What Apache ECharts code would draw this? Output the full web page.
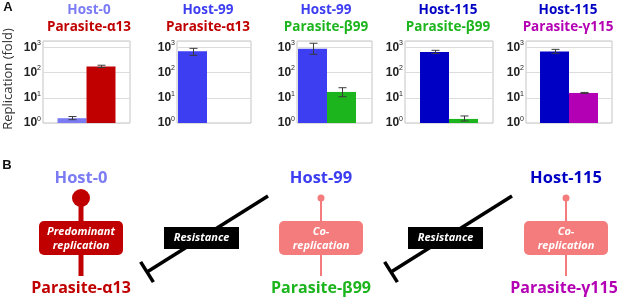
<!DOCTYPE html>
<html>
<head>
<meta charset="utf-8">
<script src="https://cdn.jsdelivr.net/npm/echarts@6/dist/echarts.min.js"></script>
<style>
  html, body { margin: 0; padding: 0; background: #fff; }
  #chart { width: 617px; height: 298px; }
</style>
</head>
<body>
<div id="chart"></div>
<script>
// -----------------------------------------
// DATA (panel A: replication fold)
// -----------------------------------------
const panelHosts = ['Host-0', 'Host-99', 'Host-99', 'Host-115', 'Host-115'];
const panelParasites = ['Parasite-α13', 'Parasite-α13', 'Parasite-β99', 'Parasite-β99', 'Parasite-γ115'];
const hostValues = [1.55, 690, 880, 650, 680];
const hostLow = [1.35, 480, 530, 570, 580];
const hostHigh = [1.8, 910, 1450, 760, 830];
const parasiteValues = [175, null, 17, 1.45, 15.5];
const parasiteLow = [158, null, 11, 1.2, 14.8];
const parasiteHigh = [195, null, 25, 1.9, 16.3];
const yTicks = [1, 10, 100, 1000];

// panel B diagram text
const diagramHosts = ['Host-0', 'Host-99', 'Host-115'];
const diagramParasites = ['Parasite-α13', 'Parasite-β99', 'Parasite-γ115'];
const diagramModes = [['Predominant', 'replication'], ['Co-', 'replication'], ['Co-', 'replication']];
const resistanceText = 'Resistance';
const axisName = 'Replication (fold)';

// -----------------------------------------
// STYLE / LAYOUT
// -----------------------------------------
const FONT = '"Open Sans", "Noto Sans", sans-serif';
const TICK_FONT = '"Liberation Sans", Arial, sans-serif';
const HOST_COLOR = { 'Host-0': '#7b7bf4', 'Host-99': '#3d3df2', 'Host-115': '#0000c4' };
const PARASITE_COLOR = { 'Parasite-α13': '#c00000', 'Parasite-β99': '#1db51d', 'Parasite-γ115': '#b400b4' };
const boxes = [[43, 130], [177, 251], [297, 372], [405, 493], [526, 612]];
const padWidth = [0, 14, 15, 0, 0];
const titleX = [89, 208, 326, 448, 568];
const GRID_TOP = 41, GRID_H = 82;
const Y_MAX = 1778;
const BAR_W = 29;

// -----------------------------------------
// BUILD PANEL A
// -----------------------------------------
const grids = [], xAxes = [], yAxes = [], series = [], graphics = [];

function errorBarItem(p) {
  return function (params, api) {
    const side = api.value(3);
    const lo = api.coord([0, api.value(1)]);
    const hi = api.coord([0, api.value(2)]);
    const total = 2 * BAR_W + padWidth[p];
    const x = Math.round(lo[0] - total / 2 + BAR_W / 2 + side * BAR_W) + 0.5;
    const style = { stroke: '#3a3a3a', lineWidth: 1 };
    return {
      type: 'group',
      children: [
        { type: 'line', shape: { x1: x, y1: lo[1], x2: x, y2: hi[1] }, style },
        { type: 'line', shape: { x1: x - 4, y1: hi[1], x2: x + 4, y2: hi[1] }, style },
        { type: 'line', shape: { x1: x - 4, y1: lo[1], x2: x + 4, y2: lo[1] }, style }
      ]
    };
  };
}

function txt(text, x, y, fill, font, extra) {
  return Object.assign({
    type: 'text', z: 10,
    style: { text, x, y, fill, font, textAlign: 'center', textVerticalAlign: 'middle' }
  }, extra || {});
}

panelHosts.forEach((host, p) => {
  const parasite = panelParasites[p];
  grids.push({
    left: boxes[p][0], top: GRID_TOP, width: boxes[p][1] - boxes[p][0], height: GRID_H,
    show: true, borderColor: '#c4c4c4', borderWidth: 1
  });
  xAxes.push({ type: 'category', gridIndex: p, data: [''], show: false });
  yAxes.push({
    type: 'log', logBase: 10, gridIndex: p, min: yTicks[0], max: Y_MAX,
    axisLine: { show: false }, axisTick: { show: false },
    splitLine: { lineStyle: { color: '#dcdcdc' } },
    axisLabel: {
      margin: 2,
      formatter: v => {
        const e = Math.log10(v);
        if (Math.abs(e - Math.round(e)) > 0.01) return '';
        return '{b|10}{s|' + Math.round(e) + '}';
      },
      rich: {
        b: { fontFamily: TICK_FONT, fontWeight: 'bold', fontSize: 12, color: '#222' },
        s: { fontFamily: TICK_FONT, fontSize: 7, color: '#222', padding: [0, 0, 8, 0] }
      }
    }
  });

  series.push({
    type: 'bar', xAxisIndex: p, yAxisIndex: p, barWidth: BAR_W, barGap: '0%',
    data: [hostValues[p]], itemStyle: { color: HOST_COLOR[host] }
  });
  series.push({
    type: 'bar', xAxisIndex: p, yAxisIndex: p, barWidth: BAR_W, barGap: '0%',
    data: [parasiteValues[p] == null ? '-' : parasiteValues[p]],
    itemStyle: { color: PARASITE_COLOR[parasite] }
  });
  if (padWidth[p]) {
    // empty slot, keeps the bars to the left like the original
    series.push({
      type: 'bar', xAxisIndex: p, yAxisIndex: p, barWidth: padWidth[p], barGap: '0%', data: ['-']
    });
  }

  const errData = [[0, hostLow[p], hostHigh[p], 0]];
  if (parasiteValues[p] != null) errData.push([0, parasiteLow[p], parasiteHigh[p], 1]);
  series.push({
    type: 'custom', xAxisIndex: p, yAxisIndex: p, z: 5,
    renderItem: errorBarItem(p),
    encode: { x: 0, y: [1, 2] },
    data: errData
  });

  graphics.push(txt(host, titleX[p], 10, HOST_COLOR[host], 'bold 13.5px ' + FONT));
  graphics.push(txt(parasite, titleX[p], 27, PARASITE_COLOR[parasite], 'bold 13.5px ' + FONT));
});

graphics.push(txt('A', 8, 7, '#111', 'bold 13px ' + TICK_FONT));
graphics.push({
  type: 'text', x: 8, y: 79, rotation: Math.PI / 2, z: 10,
  style: { text: axisName, x: 0, y: 0, fill: '#333', font: '13px ' + FONT, textAlign: 'center', textVerticalAlign: 'middle' }
});

// -----------------------------------------
// PANEL B DIAGRAM
// -----------------------------------------
const colX = [81, 321, 566];
const DARK_RED = '#c00000', SALMON = '#f47c7c';

graphics.push(txt('B', 7, 165, '#111', 'bold 13px ' + TICK_FONT));

diagramHosts.forEach((host, i) => {
  const cx = colX[i];
  const strong = i === 0;
  const col = strong ? DARK_RED : SALMON;
  graphics.push({
    type: 'line', z: 2,
    shape: { x1: cx, y1: 197, x2: cx, y2: 276 },
    style: { stroke: col, lineWidth: strong ? 5 : 2 }
  });
  graphics.push({
    type: 'circle', z: 3,
    shape: { cx, cy: 198, r: strong ? 9 : 3.5 },
    style: { fill: col }
  });
  graphics.push({
    type: 'rect', z: 3,
    shape: { x: cx - 42, y: 221, width: 84, height: 34, r: 5 },
    style: { fill: col }
  });
  diagramModes[i].forEach((line, k) => {
    graphics.push(txt(line, cx, 232 + k * 13.5, '#fff', 'italic bold 11px ' + FONT));
  });
  graphics.push(txt(host, cx, 178, HOST_COLOR[host], 'bold 16.5px ' + FONT));
  const parasite = diagramParasites[i];
  const px = i === 2 ? 564 : cx;
  graphics.push(txt(parasite, px, 288, PARASITE_COLOR[parasite], 'bold 16px ' + FONT));
});

// resistance arrows between columns
[0, 244].forEach(dx => {
  const x1 = 268 + dx, y1 = 196, x2 = 147 + dx, y2 = 272;
  const len = Math.hypot(x1 - x2, y1 - y2);
  const nx = (y2 - y1) / len * 12, ny = -(x2 - x1) / len * 12;
  graphics.push({
    type: 'line', z: 4,
    shape: { x1, y1, x2, y2 },
    style: { stroke: '#000', lineWidth: 3.5 }
  });
  graphics.push({
    type: 'line', z: 4,
    shape: { x1: x2 - nx, y1: y2 - ny, x2: x2 + nx, y2: y2 + ny },
    style: { stroke: '#000', lineWidth: 3.5 }
  });
  graphics.push({
    type: 'rect', z: 5,
    shape: { x: 164 + dx, y: 227, width: 75, height: 22 },
    style: { fill: '#000' }
  });
  graphics.push(txt(resistanceText, 201.5 + dx, 238, '#fff', 'italic bold 11px ' + FONT, { z: 6 }));
});

// -----------------------------------------
// RENDER
// -----------------------------------------
const chart = echarts.init(document.getElementById('chart'));
chart.setOption({
  animation: false,
  backgroundColor: '#fff',
  grid: grids,
  xAxis: xAxes,
  yAxis: yAxes,
  series,
  graphic: { elements: graphics }
});
</script>
</body>
</html>
